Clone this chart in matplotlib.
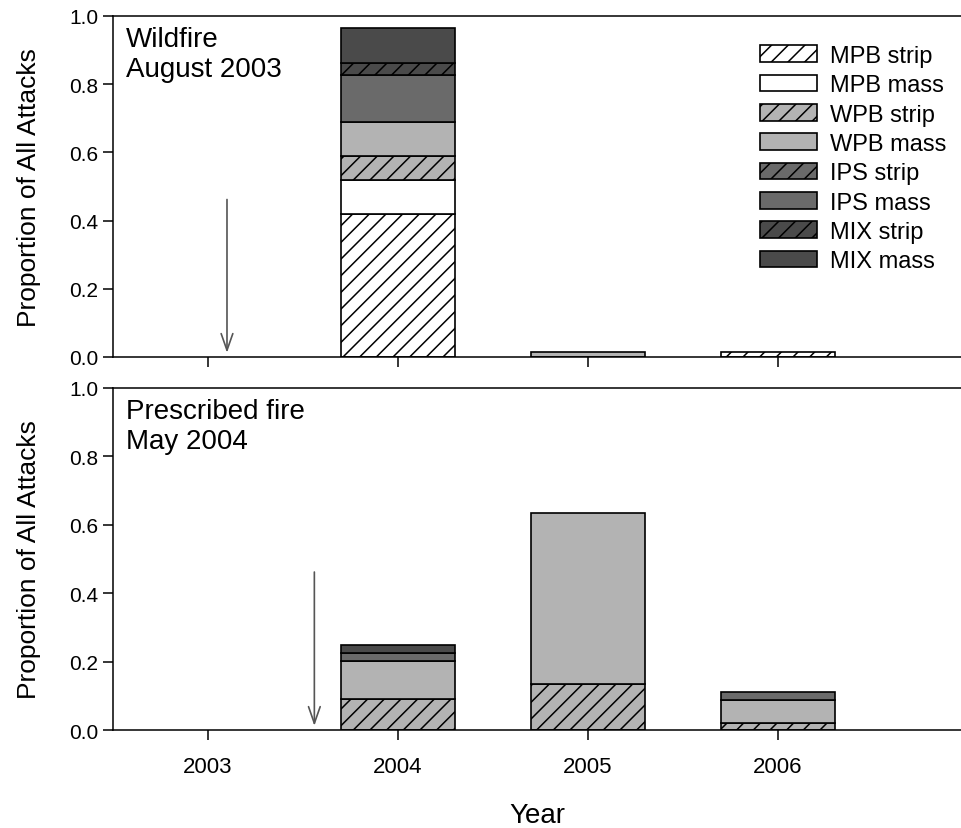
import matplotlib
matplotlib.use("Agg")
from matplotlib import pyplot as plt
from matplotlib.patches import Patch
import numpy as np

plt.rcParams['font.family'] = ['Liberation Sans', 'DejaVu Sans']
plt.rcParams['hatch.linewidth'] = 1.1

years = [2003, 2004, 2005, 2006]
series_names = ["MPB strip", "MPB mass", "WPB strip", "WPB mass",
                "IPS strip", "IPS mass", "MIX strip", "MIX mass"]

# proportions of all attacks, wildfire site (August 2003)
wild_mpb_strip = [0, 0.42, 0, 0.015]
wild_mpb_mass = [0, 0.10, 0, 0]
wild_wpb_strip = [0, 0.07, 0, 0]
wild_wpb_mass = [0, 0.10, 0.015, 0]
wild_ips_strip = [0, 0, 0, 0]
wild_ips_mass = [0, 0.137, 0, 0]
wild_mix_strip = [0, 0.035, 0, 0]
wild_mix_mass = [0, 0.103, 0, 0]

# prescribed fire site (May 2004)
presc_mpb_strip = [0, 0, 0, 0]
presc_mpb_mass = [0, 0, 0, 0]
presc_wpb_strip = [0, 0.09, 0.135, 0.02]
presc_wpb_mass = [0, 0.113, 0.50, 0.069]
presc_ips_strip = [0, 0, 0, 0]
presc_ips_mass = [0, 0.021, 0, 0.023]
presc_mix_strip = [0, 0, 0, 0]
presc_mix_mass = [0, 0.025, 0, 0]

fire_year = [2003.1, 2003.56]
panel_text = ["Wildfire\nAugust 2003", "Prescribed fire\nMay 2004"]

colors = ["white", "white", "#b3b3b3", "#b3b3b3",
          "#6a6a6a", "#6a6a6a", "#4a4a4a", "#4a4a4a"]
hatches = ["//", None, "//", None, "//", None, "//", None]


def draw_panel(ax, stacks, arrow_x, label):
    x = np.array(years, dtype=float)
    bottom = np.zeros(len(years))
    for vals, c, h in zip(stacks, colors, hatches):
        vals = np.array(vals, dtype=float)
        mask = vals > 0
        if mask.any():
            ax.bar(x[mask], vals[mask], width=0.6, bottom=bottom[mask], color=c,
                   edgecolor="black", linewidth=1.2, hatch=h, zorder=2)
        bottom += vals

    ax.annotate("", xy=(arrow_x, 0.004), xytext=(arrow_x, 0.47),
                arrowprops=dict(arrowstyle="->,head_length=1.2,head_width=0.42",
                                color="#555555", lw=1.2))
    ax.text(0.015, 0.972, label, transform=ax.transAxes, ha="left", va="top",
            fontsize=20, linespacing=1.2)

    ax.set_xlim(2002.5, 2006.97)
    ax.set_ylim(0, 1.0)
    ax.set_xticks(years)
    ax.set_yticks(np.arange(0, 1.01, 0.2))
    ax.set_yticklabels(["%.1f" % v for v in np.arange(0, 1.01, 0.2)])
    ax.spines["right"].set_visible(False)
    for s in ["left", "top", "bottom"]:
        ax.spines[s].set_linewidth(1.1)
    ax.tick_params(direction="out", length=7, width=1.1, labelsize=15)
    ax.tick_params(axis="x", labelsize=16, pad=12)
    ax.set_ylabel("Proportion of All Attacks", fontsize=19, labelpad=20)


fig = plt.figure(figsize=(9.62, 8.29), dpi=100)
ax1 = fig.add_axes([0.1175, 0.5682, 0.8825, 0.4113])
ax2 = fig.add_axes([0.1175, 0.1182, 0.8825, 0.4126])

wild = [wild_mpb_strip, wild_mpb_mass, wild_wpb_strip, wild_wpb_mass,
        wild_ips_strip, wild_ips_mass, wild_mix_strip, wild_mix_mass]
presc = [presc_mpb_strip, presc_mpb_mass, presc_wpb_strip, presc_wpb_mass,
         presc_ips_strip, presc_ips_mass, presc_mix_strip, presc_mix_mass]

draw_panel(ax1, wild, fire_year[0], panel_text[0])
draw_panel(ax2, presc, fire_year[1], panel_text[1])
ax1.set_xticklabels([])
ax2.set_xlabel("Year", fontsize=20, labelpad=18)

handles = [Patch(facecolor=c, edgecolor="black", hatch=h, linewidth=1.2)
           for c, h in zip(colors, hatches)]
ax1.legend(handles, series_names, loc="upper left",
           bbox_to_anchor=(0.762, 0.915), frameon=False,
           fontsize=17, handlelength=2.4, handleheight=0.72,
           handletextpad=0.55, labelspacing=0.31, borderaxespad=0, borderpad=0)

fig.savefig("out.png", dpi=100)
